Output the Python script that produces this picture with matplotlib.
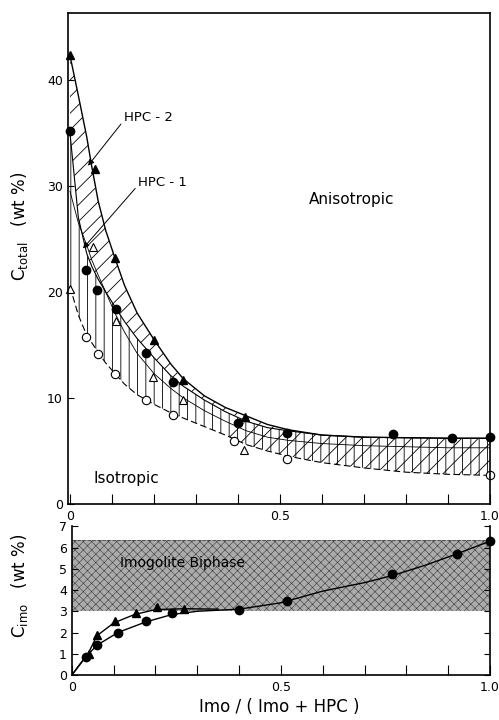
import numpy as np
import matplotlib
matplotlib.use('Agg')
from matplotlib import pyplot as plt

plt.rcParams['font.family'] = ['DejaVu Sans']

# ---- upper panel: C_total vs Imo/(Imo+HPC) ----
# HPC-2 anisotropic (filled triangles)
tri_f_x = [0.0, 0.06, 0.107, 0.2, 0.27, 0.417]
tri_f_y = [42.3, 31.6, 23.2, 15.5, 11.7, 8.2]
# HPC-2 isotropic (filled circles)
cir_f_x = [0.0, 0.038, 0.065, 0.11, 0.18, 0.245, 0.4, 0.517, 0.77, 0.91, 1.0]
cir_f_y = [35.2, 22.1, 20.2, 18.4, 14.2, 11.5, 7.6, 6.7, 6.6, 6.2, 6.3]
# HPC-1 anisotropic (open triangles)
tri_o_x = [0.0, 0.055, 0.11, 0.198, 0.27, 0.415]
tri_o_y = [20.3, 24.2, 17.3, 12.0, 9.8, 5.1]
# HPC-1 isotropic (open circles)
cir_o_x = [0.038, 0.067, 0.107, 0.18, 0.245, 0.39, 0.517, 1.0]
cir_o_y = [15.7, 14.1, 12.3, 9.8, 8.4, 5.9, 4.2, 2.7]

# boundary curves
curve_x = [0.0, 0.02, 0.04, 0.052, 0.067, 0.085, 0.107, 0.13, 0.16, 0.2, 0.24,
           0.27, 0.32, 0.37, 0.42, 0.47, 0.52, 0.6, 0.7, 0.8, 0.9, 1.0]
upper_y = [42.3, 38.5, 34.6, 31.8, 28.6, 25.8, 23.2, 20.6, 18.0, 15.5, 13.2,
           11.8, 10.2, 9.1, 8.3, 7.5, 7.0, 6.5, 6.3, 6.25, 6.2, 6.2]
lower_y = [35.0, 27.0, 23.6, 22.4, 21.2, 20.0, 18.6, 17.2, 15.6, 13.8, 12.1,
           11.1, 9.8, 8.7, 7.8, 7.2, 6.9, 6.5, 6.3, 6.25, 6.2, 6.2]
hpc1_y = [29.5, 26.5, 24.4, 23.0, 21.6, 20.0, 18.0, 16.2, 14.2, 12.3, 10.9,
          10.0, 8.8, 7.8, 6.9, 6.3, 6.0, 5.7, 5.5, 5.4, 5.3, 5.3]
dash_y = [20.5, 17.8, 15.9, 15.2, 14.3, 13.3, 12.3, 11.3, 10.3, 9.4, 8.6,
          8.1, 7.3, 6.5, 5.6, 5.0, 4.5, 3.9, 3.4, 3.0, 2.8, 2.7]

# ---- lower panel: C_imo ----
imo_c_x = [0.033, 0.06, 0.11, 0.177, 0.24, 0.40, 0.514, 0.766, 0.92, 1.0]
imo_c_y = [0.85, 1.4, 2.0, 2.53, 2.9, 3.05, 3.47, 4.74, 5.72, 6.3]
imo_t_x = [0.04, 0.06, 0.103, 0.153, 0.203, 0.268]
imo_t_y = [1.0, 1.88, 2.53, 2.9, 3.18, 3.1]
imo_cc_x = [0.0, 0.033, 0.06, 0.11, 0.177, 0.24, 0.3, 0.4, 0.5, 0.6, 0.7, 0.77, 0.85, 0.92, 1.0]
imo_cc_y = [0.0, 0.85, 1.4, 2.0, 2.5, 2.85, 3.0, 3.1, 3.4, 3.95, 4.35, 4.7, 5.2, 5.7, 6.3]
imo_tc_x = [0.0, 0.04, 0.06, 0.1, 0.15, 0.2, 0.27, 0.35]
imo_tc_y = [0.0, 1.05, 1.85, 2.45, 2.85, 3.08, 3.12, 3.1]
biphase_lo, biphase_hi = 3.0, 6.35

fig = plt.figure(figsize=(4.99, 7.2), dpi=100)
ax1 = fig.add_axes([0.136, 0.300, 0.846, 0.682])
ax2 = fig.add_axes([0.144, 0.0625, 0.838, 0.2065])

cx = np.array(curve_x)
up = np.array(upper_y)
lo = np.array(lower_y)
da = np.array(dash_y)

plt.rcParams['hatch.linewidth'] = 0.6
ax1.fill_between(cx, lo, up, facecolor='none', edgecolor='k', hatch='//', linewidth=0)
ax1.fill_between(cx, da, lo, where=cx >= 0.42, facecolor='none', edgecolor='k',
                 hatch='//', linewidth=0, interpolate=True)
ax1.fill_between(cx, da, lo, facecolor='none', edgecolor='k', hatch='||', linewidth=0)

ax1.plot(cx, up, color='k', lw=1.0)
ax1.plot(cx, lo, color='k', lw=0.8)
ax1.plot(cx, hpc1_y, color='k', lw=0.6)
ax1.plot(cx, da, color='k', lw=0.8, ls=(0, (6, 3)))

ms = 6
ax1.plot(tri_f_x, tri_f_y, '^', color='k', ms=ms, clip_on=False)
ax1.plot(cir_f_x, cir_f_y, 'o', color='k', ms=ms, clip_on=False)
ax1.plot(tri_o_x, tri_o_y, '^', mfc='white', mec='k', mew=0.8, ms=ms, clip_on=False)
ax1.plot(cir_o_x, cir_o_y, 'o', mfc='white', mec='k', mew=0.8, ms=ms, clip_on=False)

ax1.annotate('HPC - 2', xy=(0.043, 31.9), xytext=(0.128, 36.4), fontsize=9.5,
             ha='left', va='center',
             arrowprops=dict(arrowstyle='-|>', lw=0.7, color='k', shrinkA=0,
                             shrinkB=0, relpos=(0, 0.3), mutation_scale=9))
ax1.annotate('HPC - 1', xy=(0.031, 24.1), xytext=(0.162, 30.3), fontsize=9.5,
             ha='left', va='center',
             arrowprops=dict(arrowstyle='-|>', lw=0.7, color='k', shrinkA=0,
                             shrinkB=0, relpos=(0, 0.3), mutation_scale=9))
ax1.text(0.67, 28.7, 'Anisotropic', fontsize=11, ha='center', va='center')
ax1.text(0.055, 2.45, 'Isotropic', fontsize=11, ha='left', va='center')

ax1.set_xlim(-0.005, 1.0)
ax1.set_ylim(0, 46.3)
ax1.set_yticks([0, 10, 20, 30, 40])
ax1.set_xticks(np.arange(0, 1.01, 0.1))
ax1.set_xticklabels(['0', '', '', '', '', '0.5', '', '', '', '', '1.0'])
ax1.tick_params(axis='x', direction='in', length=7, width=0.8, labelsize=9, pad=4)
ax1.tick_params(axis='y', direction='in', length=4, width=0.8, labelsize=9)
for s in ax1.spines.values():
    s.set_linewidth(1.2)

# lower panel: stippled biphase band
plt.rcParams['hatch.linewidth'] = 0.4
ax2.fill_between([0, 1], [biphase_lo] * 2, [biphase_hi] * 2, facecolor='#ababab',
                 edgecolor='#3c3c3c', hatch='xxxx', linewidth=0)
ax2.plot([0, 1], [biphase_hi] * 2, color='#404040', lw=0.6, ls=(0, (4, 2)))
ax2.text(0.115, 5.26, 'Imogolite Biphase', fontsize=10, ha='left', va='center')

ax2.plot(imo_cc_x, imo_cc_y, color='k', lw=1.0)
ax2.plot(imo_tc_x, imo_tc_y, color='k', lw=1.0)
ax2.plot(imo_c_x, imo_c_y, 'o', color='k', ms=ms, clip_on=False)
ax2.plot(imo_t_x, imo_t_y, '^', color='k', ms=ms, clip_on=False)

ax2.set_xlim(0, 1.0)
ax2.set_ylim(0, 7)
ax2.set_yticks(range(0, 8))
ax2.set_xticks(np.arange(0, 1.01, 0.1))
ax2.set_xticklabels(['0', '', '', '', '', '0.5', '', '', '', '', '1.0'])
ax2.tick_params(axis='x', direction='in', length=7, width=0.8, labelsize=9, pad=4)
ax2.tick_params(axis='y', direction='in', length=4, width=0.8, labelsize=9,
                right=True)
ax2.spines['top'].set_visible(False)
for s in ax2.spines.values():
    s.set_linewidth(1.2)

fig.text(0.04, 0.686, r'$\mathsf{C}_{\mathsf{total}}$   (wt %)', rotation=90,
         fontsize=12, ha='center', va='center')
fig.text(0.04, 0.186, r'$\mathsf{C}_{\mathsf{imo}}$   (wt %)', rotation=90,
         fontsize=12, ha='center', va='center')
fig.text(0.56, 0.018, 'Imo / ( Imo + HPC )', fontsize=12, ha='center', va='center')

fig.savefig('out.png', dpi=100)
